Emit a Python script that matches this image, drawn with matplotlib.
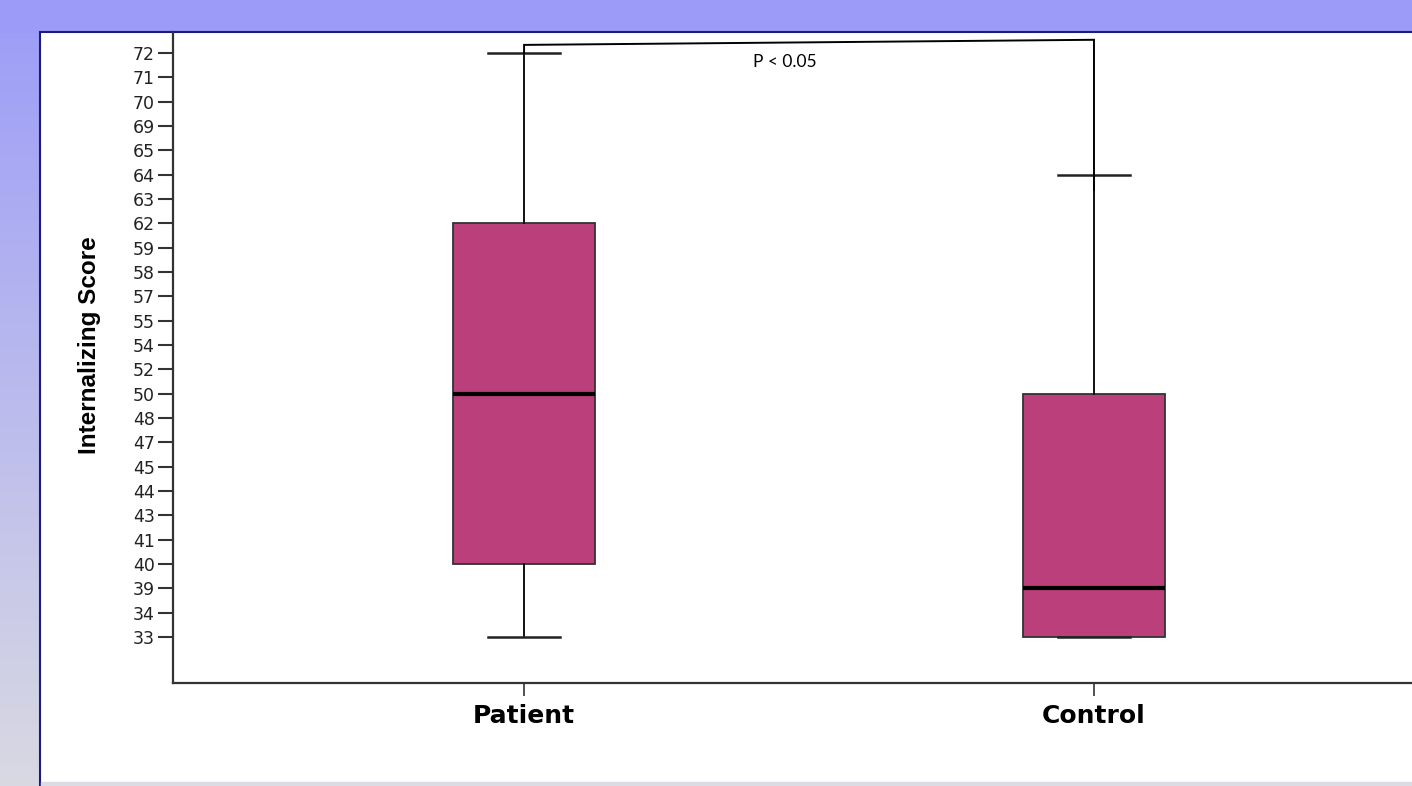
"""
Internalizing score box plot: Patient vs Control.
"""
import matplotlib
matplotlib.use("Agg")
import matplotlib.pyplot as plt
import numpy as np
from matplotlib.patches import Rectangle

# ordinal score axis, as printed on the chart
score_ticks = [33, 34, 39, 40, 41, 43, 44, 45, 47, 48, 50, 52, 54, 55,
               57, 58, 59, 62, 63, 64, 65, 69, 70, 71, 72]
groups = ['Patient', 'Control']
whisker_low = [33, 33]
q1 = [40, 33]
median = [50, 39]
q3 = [62, 50]
whisker_high = [72, 64]
p_text = 'P < 0.05'

BOX_COLOR = '#bb3f7b'


def idx(v):
    """Position of a score on the ordinal axis."""
    return score_ticks.index(v)


W, H = 1412, 786
fig = plt.figure(figsize=(W / 100, H / 100), dpi=100)

# background: blue band on top, gradient strip on the left, white panel
bg = fig.add_axes([0, 0, 1, 1], zorder=-10)
bg.set_xlim(0, W)
bg.set_ylim(H, 0)
bg.axis('off')
top = np.array([0.612, 0.612, 0.973])
bot = np.array([0.850, 0.850, 0.890])
t = np.linspace(0, 1, 256)[:, None]
grad = (top * (1 - t) + bot * t)[:, None, :]
bg.imshow(grad, extent=(0, W, H, 0), aspect='auto', interpolation='bilinear')
bg.add_patch(Rectangle((0, 0), W, 32, color=top))
bg.add_patch(Rectangle((40, 32), W, H, facecolor='white',
                       edgecolor='#1a1a80', linewidth=1.5))
bg.add_patch(Rectangle((41, 782), W, 10, color='#dcdce4'))

ax = fig.add_axes([173 / W, 1 - 683 / H, (W - 173) / W, (683 - 32) / H])
ax.set_facecolor('none')

stats = []
for i, g in enumerate(groups):
    stats.append(dict(label=g, whislo=idx(whisker_low[i]), q1=idx(q1[i]),
                      med=idx(median[i]), q3=idx(q3[i]),
                      whishi=idx(whisker_high[i]), fliers=[]))

ax.bxp(stats, positions=[0, 1], widths=0.25, patch_artist=True,
       showfliers=False,
       boxprops=dict(facecolor=BOX_COLOR, edgecolor='#333333', linewidth=1.3),
       medianprops=dict(color='black', linewidth=3),
       whiskerprops=dict(color='#111111', linewidth=1.4),
       capprops=dict(color='#222222', linewidth=1.8),
       capwidths=0.125)

# significance bracket
top_l = idx(whisker_high[0]) + 0.33
top_r = top_l + 0.21
drop_r = idx(whisker_high[1]) - 0.63
ax.plot([0, 0, 1, 1], [idx(whisker_high[0]), top_l, top_r, drop_r],
        color='black', linewidth=1.4, solid_joinstyle='miter', clip_on=False)
ax.text(0.458, 23.63, p_text, ha='center', va='center', fontsize=12.5,
        family='Lato')

ax.set_xlim(-0.616, 1.558)
ax.set_ylim(-1.89, 24.86)
ax.set_yticks(range(len(score_ticks)))
ax.set_yticklabels([str(s) for s in score_ticks], fontsize=12.5,
                   color='#222222', family='DejaVu Sans')
ax.set_xticks([0, 1])
ax.set_xticklabels(groups, fontsize=18, fontweight='bold',
                   family='DejaVu Sans')
ax.tick_params(axis='y', length=11, width=1.5, color='#333333', pad=2)
ax.tick_params(axis='x', length=9, width=1.2, color='#333333', pad=6)

for side in ['top', 'right']:
    ax.spines[side].set_visible(False)
for side in ['left', 'bottom']:
    ax.spines[side].set_linewidth(1.6)
    ax.spines[side].set_color('#333333')

ax.set_ylabel('Internalizing Score', fontsize=17.5, fontweight='bold',
              family='Liberation Sans', va='center')
ax.yaxis.set_label_coords(-0.067, 0.519)

fig.savefig('out.png', dpi=100)
